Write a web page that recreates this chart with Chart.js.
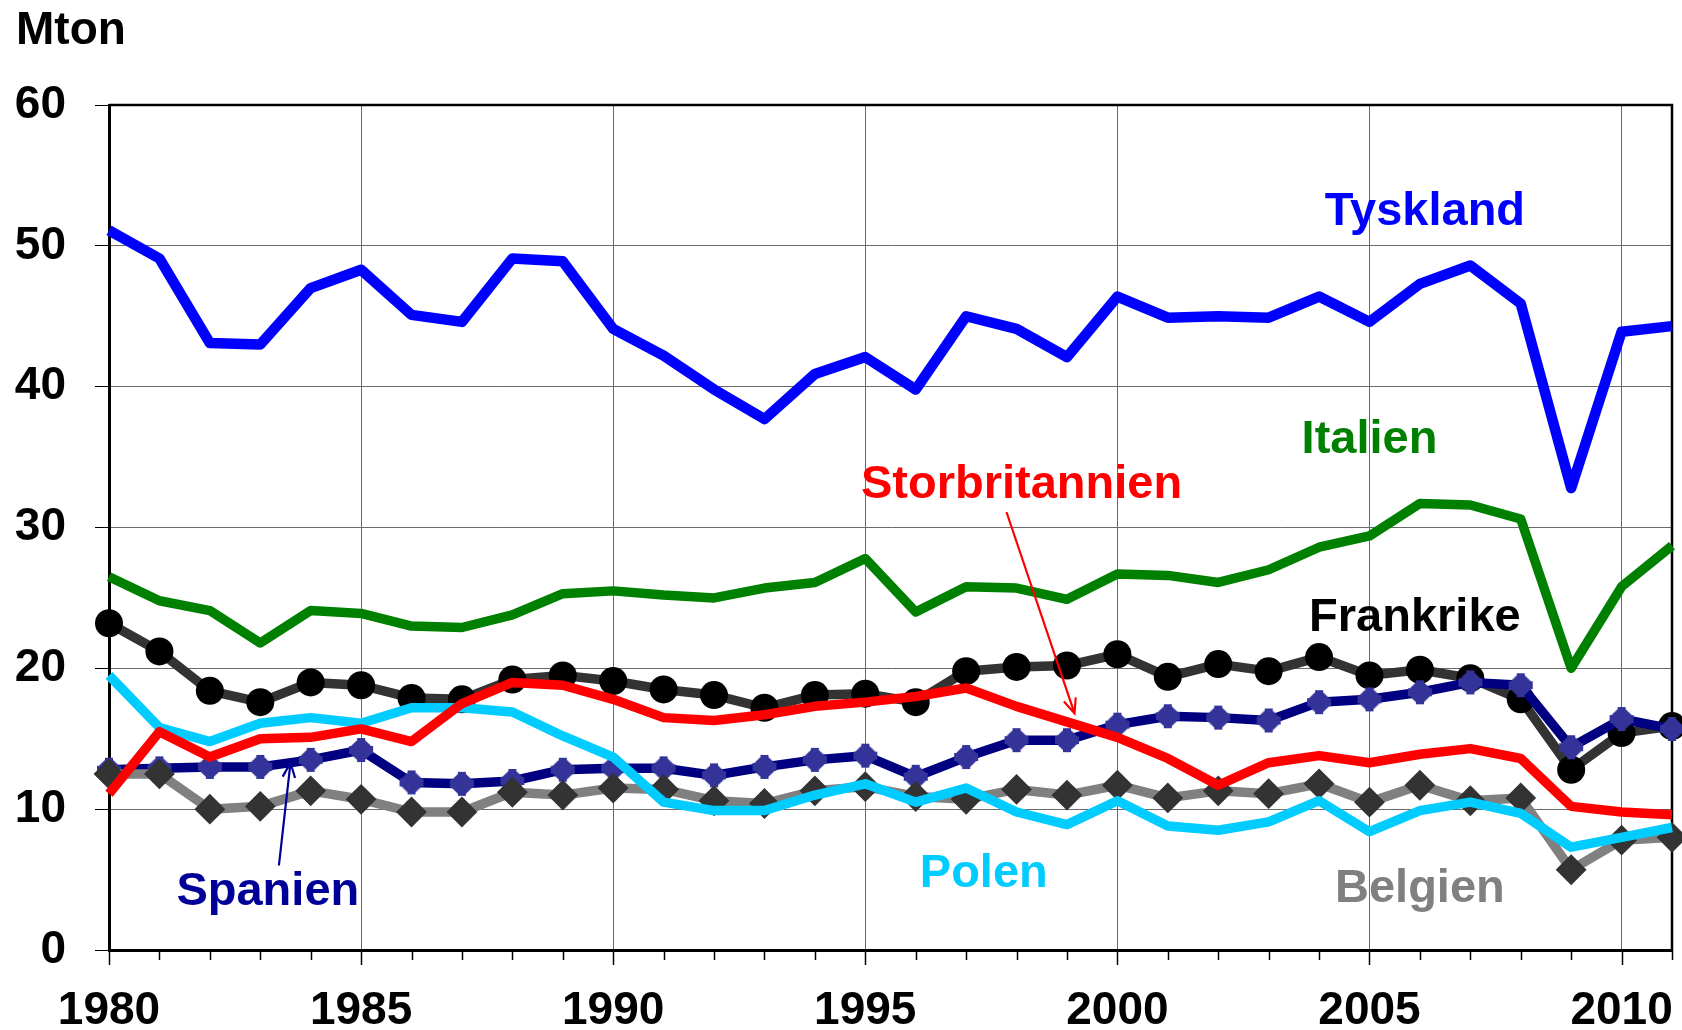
<!DOCTYPE html>
<html lang="sv">
<head>
<meta charset="utf-8">
<title>Mton per land 1980–2011</title>
<script src="https://cdn.jsdelivr.net/npm/chart.js@4.4.1/dist/chart.umd.min.js"></script>
<style>
  html, body { margin: 0; padding: 0; background: #fff; }
  #ram { width: 1682px; height: 1030px; }
</style>
</head>
<body>
<div id="ram"><canvas id="diagram" width="1682" height="1030"></canvas></div>
<script>
// Årtal och värden (Mton), avlästa ur originalbilden
const ar = [1980, 1981, 1982, 1983, 1984, 1985, 1986, 1987, 1988, 1989,
            1990, 1991, 1992, 1993, 1994, 1995, 1996, 1997, 1998, 1999,
            2000, 2001, 2002, 2003, 2004, 2005, 2006, 2007, 2008, 2009,
            2010, 2011];

const tyskland = [51.1, 49.1, 43.1, 43.0, 47.0, 48.3, 45.1, 44.6, 49.1, 48.9,
                  44.1, 42.2, 39.8, 37.7, 40.9, 42.1, 39.8, 45.0, 44.1, 42.1,
                  46.4, 44.9, 45.0, 44.9, 46.4, 44.6, 47.3, 48.6, 45.9, 32.8,
                  43.9, 44.3];
const italien = [26.5, 24.8, 24.1, 21.8, 24.1, 23.9, 23.0, 22.9, 23.8, 25.3,
                 25.5, 25.2, 25.0, 25.7, 26.1, 27.8, 24.0, 25.8, 25.7, 24.9,
                 26.7, 26.6, 26.1, 27.0, 28.6, 29.4, 31.7, 31.6, 30.6, 20.0,
                 25.8, 28.7];
const frankrike = [23.2, 21.2, 18.4, 17.6, 19.0, 18.8, 17.9, 17.8, 19.2, 19.5,
                   19.1, 18.5, 18.1, 17.2, 18.1, 18.2, 17.6, 19.8, 20.1, 20.2,
                   21.0, 19.4, 20.3, 19.8, 20.8, 19.5, 19.9, 19.3, 17.8, 12.8,
                   15.4, 15.9];
const spanien = [12.8, 12.9, 13.0, 13.0, 13.5, 14.2, 11.9, 11.8, 12.0, 12.8,
                 12.9, 12.9, 12.4, 13.0, 13.5, 13.8, 12.3, 13.7, 14.9, 14.9,
                 16.0, 16.6, 16.5, 16.3, 17.6, 17.8, 18.3, 19.0, 18.8, 14.4,
                 16.4, 15.7];
const storbritannien = [11.1, 15.5, 13.7, 15.0, 15.1, 15.7, 14.8, 17.5, 19.0, 18.8,
                        17.8, 16.5, 16.3, 16.7, 17.3, 17.6, 18.0, 18.6, 17.3, 16.2,
                        15.1, 13.6, 11.7, 13.3, 13.8, 13.3, 13.9, 14.3, 13.6, 10.2,
                        9.8, 9.6];
const polen = [19.5, 15.8, 14.8, 16.1, 16.5, 16.1, 17.2, 17.2, 16.9, 15.2,
               13.7, 10.5, 9.9, 9.9, 11.0, 11.8, 10.5, 11.5, 9.8, 8.9,
               10.6, 8.8, 8.5, 9.1, 10.6, 8.4, 9.9, 10.5, 9.7, 7.3,
               8.0, 8.7];
const belgien = [12.5, 12.5, 10.0, 10.2, 11.3, 10.7, 9.8, 9.8, 11.2, 11.0,
                 11.5, 11.4, 10.6, 10.4, 11.3, 11.6, 10.9, 10.7, 11.4, 11.0,
                 11.7, 10.8, 11.3, 11.1, 11.8, 10.5, 11.7, 10.6, 10.8, 5.7,
                 7.8, 8.0];

const yTicks = [0, 10, 20, 30, 40, 50, 60];
const xEtiketter = [1980, 1985, 1990, 1995, 2000, 2005, 2010];

const FONT = '"Liberation Sans", Arial, sans-serif';
Chart.defaults.font.family = FONT;

const punkter = (v) => ar.map((x, i) => ({ x, y: v[i] }));

// Spaniens markör: liten fylld stjärna (som i Excel)
function stjarna(farg) {
  const c = document.createElement('canvas');
  c.width = 28; c.height = 28;
  const g = c.getContext('2d');
  g.strokeStyle = farg;
  g.fillStyle = farg;
  g.beginPath();
  g.moveTo(14, 4); g.lineTo(24, 14); g.lineTo(14, 24); g.lineTo(4, 14);
  g.closePath();
  g.fill();
  g.lineWidth = 8;
  g.beginPath();
  g.moveTo(14, 2); g.lineTo(14, 26);
  g.moveTo(2, 14); g.lineTo(26, 14);
  g.moveTo(7, 7); g.lineTo(21, 21);
  g.moveTo(21, 7); g.lineTo(7, 21);
  g.stroke();
  return c;
}

// Etiketter och pilar i datakoordinater (år, Mton)
const textPlugin = {
  id: 'textOchPilar',
  beforeDatasetsDraw(chart) {
    // ram upptill och till höger
    const { ctx, chartArea: a } = chart;
    ctx.save();
    ctx.strokeStyle = '#000';
    ctx.lineWidth = 2.5;
    ctx.beginPath();
    ctx.moveTo(a.left, a.top); ctx.lineTo(a.right, a.top); ctx.lineTo(a.right, a.bottom);
    ctx.stroke();
    ctx.restore();
  },
  afterDraw(chart, args, opts) {
    const { ctx, scales: { x, y }, chartArea: a } = chart;
    ctx.save();

    // skalstreck på x-axeln (långa vid var femte år)
    ctx.strokeStyle = '#000';
    ctx.lineWidth = 1.5;
    ar.forEach(v => {
      const px = Math.round(x.getPixelForValue(v)) + 0.5;
      const len = v % 5 === 0 ? 15 : 10;
      ctx.beginPath();
      ctx.moveTo(px, a.bottom);
      ctx.lineTo(px, a.bottom + len);
      ctx.stroke();
    });

    ctx.textBaseline = 'alphabetic';
    ctx.font = 'bold 46px ' + FONT;
    ctx.fillStyle = '#000';
    ctx.textAlign = 'left';
    ctx.fillText('Mton', 16, 44);

    ctx.font = 'bold 47px ' + FONT;
    ctx.textAlign = 'center';
    opts.etiketter.forEach(e => {
      ctx.fillStyle = e.farg;
      ctx.fillText(e.text, x.getPixelForValue(e.x), y.getPixelForValue(e.y));
    });

    opts.pilar.forEach(p => {
      const x1 = x.getPixelForValue(p.fran[0]), y1 = y.getPixelForValue(p.fran[1]);
      const x2 = x.getPixelForValue(p.till[0]), y2 = y.getPixelForValue(p.till[1]);
      const vinkel = Math.atan2(y2 - y1, x2 - x1);
      ctx.strokeStyle = p.farg;
      ctx.lineWidth = 2.2;
      ctx.beginPath();
      ctx.moveTo(x1, y1); ctx.lineTo(x2, y2);
      ctx.moveTo(x2 - 16 * Math.cos(vinkel - 0.4), y2 - 16 * Math.sin(vinkel - 0.4));
      ctx.lineTo(x2, y2);
      ctx.lineTo(x2 - 16 * Math.cos(vinkel + 0.4), y2 - 16 * Math.sin(vinkel + 0.4));
      ctx.stroke();
    });
    ctx.restore();
  }
};

const linje = (label, data, farg, extra) => Object.assign({
  label,
  data: punkter(data),
  borderColor: farg,
  backgroundColor: farg,
  borderWidth: 9.5,
  borderJoinStyle: 'round',
  pointRadius: 0,
  tension: 0,
  clip: false
}, extra || {});

new Chart(document.getElementById('diagram'), {
  type: 'line',
  data: {
    datasets: [
      linje('Tyskland', tyskland, '#0000ff', { borderWidth: 10.5 }),
      linje('Italien', italien, '#008000'),
      linje('Storbritannien', storbritannien, '#ff0000'),
      linje('Polen', polen, '#00ccff'),
      linje('Belgien', belgien, '#808080', {
        pointStyle: 'rectRot', pointRadius: 14, pointBackgroundColor: '#333333',
        pointBorderColor: '#333333', pointBorderWidth: 2
      }),
      linje('Spanien', spanien, '#000080', {
        pointStyle: stjarna('#333399'), pointRadius: 13
      }),
      linje('Frankrike', frankrike, '#333333', {
        pointStyle: 'circle', pointRadius: 14, pointBackgroundColor: '#000000',
        pointBorderColor: '#000000', pointBorderWidth: 0
      })
    ]
  },
  options: {
    responsive: false,
    animation: false,
    layout: { autoPadding: false, padding: { top: 105, right: 10, left: 0, bottom: 0 } },
    plugins: {
      legend: { display: false },
      tooltip: { enabled: false },
      textOchPilar: {
        etiketter: [
          { text: 'Tyskland', farg: '#0000ff', x: 2006.1, y: 51.5 },
          { text: 'Italien', farg: '#008000', x: 2005.0, y: 35.3 },
          { text: 'Storbritannien', farg: '#ff0000', x: 1998.1, y: 32.1 },
          { text: 'Frankrike', farg: '#000000', x: 2005.9, y: 22.65 },
          { text: 'Spanien', farg: '#000099', x: 1983.15, y: 3.2 },
          { text: 'Polen', farg: '#00ccff', x: 1997.35, y: 4.5 },
          { text: 'Belgien', farg: '#808080', x: 2006.0, y: 3.4 }
        ],
        pilar: [
          { farg: '#ff0000', fran: [1997.8, 31.1], till: [1999.15, 16.8] },
          { farg: '#000099', fran: [1983.37, 6.0], till: [1983.6, 13.3] }
        ]
      }
    },
    scales: {
      x: {
        type: 'linear',
        min: ar[0],
        max: ar[ar.length - 1],
        afterBuildTicks: (s) => { s.ticks = ar.map(v => ({ value: v })); },
        afterFit: (s) => { s.height = 80; s.paddingLeft = 0; s.paddingRight = 0; },
        ticks: {
          autoSkip: false,
          maxRotation: 0,
          padding: 34,
          color: '#000',
          font: { size: 46, weight: 'bold' },
          callback: (v) => xEtiketter.includes(v) ? String(v) : ''
        },
        grid: {
          drawTicks: false,
          lineWidth: 1,
          color: (c) => (c.tick && xEtiketter.includes(c.tick.value)) ? '#6a6a6a' : 'rgba(0,0,0,0)'
        },
        border: { color: '#000', width: 3 }
      },
      y: {
        min: yTicks[0],
        max: yTicks[yTicks.length - 1],
        afterBuildTicks: (s) => { s.ticks = yTicks.map(v => ({ value: v })); },
        afterFit: (s) => { s.width = 109; },
        ticks: {
          padding: 29,
          color: '#000',
          font: { size: 46, weight: 'bold' }
        },
        grid: {
          color: '#6a6a6a',
          lineWidth: 1,
          tickLength: 14,
          tickColor: '#000'
        },
        border: { color: '#000', width: 3 }
      }
    }
  },
  plugins: [textPlugin]
});
</script>
</body>
</html>
